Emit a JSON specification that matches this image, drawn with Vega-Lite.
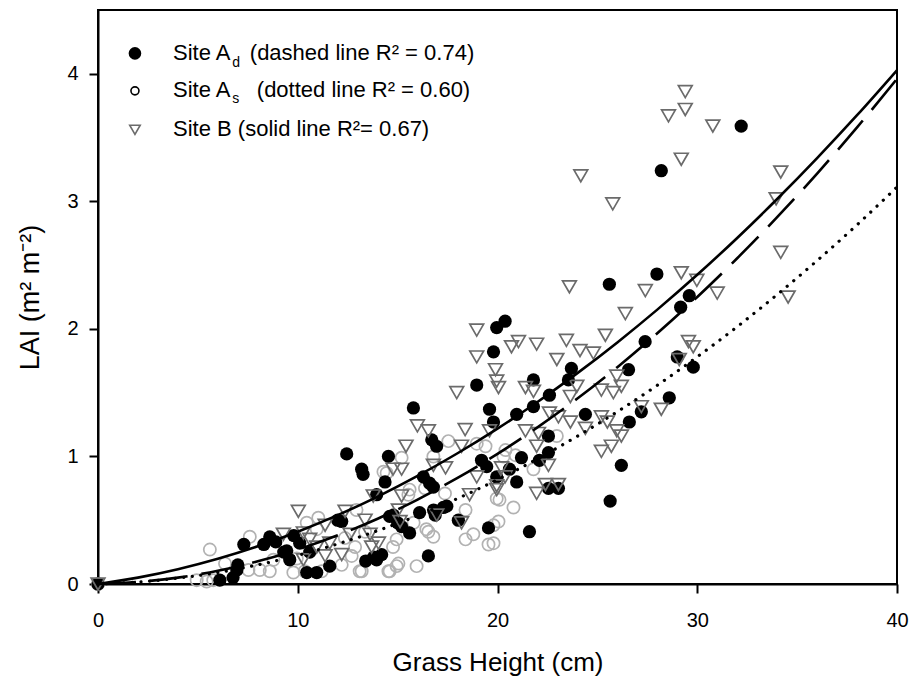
{
  "$schema": "https://vega.github.io/schema/vega-lite/v6.json",
  "width": 799,
  "height": 574,
  "autosize": {"type": "none"},
  "padding": {"left": 98, "top": 10, "right": 14, "bottom": 95},
  "background": "white",
  "datasets": {
    "pts": [
      {"s":"As","h":0,"lai":0},{"s":"As","h":4.94,"lai":0.03},{"s":"As","h":5.44,"lai":0.02},{"s":"As","h":5.77,"lai":0.03},{"s":"As","h":5.6,"lai":0.27},{"s":"As","h":6.36,"lai":0.16},{"s":"As","h":7.53,"lai":0.11},{"s":"As","h":7.6,"lai":0.37},{"s":"As","h":8.1,"lai":0.11},{"s":"As","h":8.6,"lai":0.10},{"s":"As","h":8.78,"lai":0.19},{"s":"As","h":9.78,"lai":0.09},{"s":"As","h":9.95,"lai":0.20},{"s":"As","h":10.35,"lai":0.10},{"s":"As","h":10.45,"lai":0.48},{"s":"As","h":10.95,"lai":0.43},{"s":"As","h":11.03,"lai":0.52},{"s":"As","h":11.2,"lai":0.10},{"s":"As","h":12.2,"lai":0.15},{"s":"As","h":12.36,"lai":0.36},{"s":"As","h":12.7,"lai":0.22},{"s":"As","h":12.87,"lai":0.29},{"s":"As","h":12.94,"lai":0.58},{"s":"As","h":13.1,"lai":0.10},{"s":"As","h":13.2,"lai":0.10},{"s":"As","h":13.37,"lai":0.41},{"s":"As","h":14.29,"lai":0.88},{"s":"As","h":14.45,"lai":0.87},{"s":"As","h":14.54,"lai":0.10},{"s":"As","h":14.6,"lai":0.10},{"s":"As","h":14.77,"lai":0.29},{"s":"As","h":14.95,"lai":0.14},{"s":"As","h":14.95,"lai":0.35},{"s":"As","h":15.04,"lai":0.16},{"s":"As","h":15.2,"lai":0.99},{"s":"As","h":15.54,"lai":0.70},{"s":"As","h":15.6,"lai":0.74},{"s":"As","h":15.8,"lai":0.48},{"s":"As","h":15.95,"lai":0.14},{"s":"As","h":16.37,"lai":0.75},{"s":"As","h":16.44,"lai":0.43},{"s":"As","h":16.54,"lai":0.41},{"s":"As","h":16.79,"lai":0.37},{"s":"As","h":16.79,"lai":1.0},{"s":"As","h":17.37,"lai":0.71},{"s":"As","h":17.54,"lai":1.12},{"s":"As","h":18.4,"lai":0.35},{"s":"As","h":18.4,"lai":0.58},{"s":"As","h":18.79,"lai":0.39},{"s":"As","h":18.96,"lai":1.10},{"s":"As","h":19.4,"lai":1.08},{"s":"As","h":19.55,"lai":0.31},{"s":"As","h":19.8,"lai":0.32},{"s":"As","h":19.8,"lai":0.46},{"s":"As","h":20.05,"lai":0.49},{"s":"As","h":19.96,"lai":0.67},{"s":"As","h":20.1,"lai":0.66},{"s":"As","h":20.3,"lai":1.0},{"s":"As","h":20.4,"lai":1.05},{"s":"As","h":20.8,"lai":0.60},{"s":"As","h":20.9,"lai":1.01},{"s":"As","h":21.8,"lai":0.90},{"s":"As","h":22.97,"lai":1.16},
      {"s":"Ad","h":0,"lai":0},{"s":"Ad","h":6.1,"lai":0.03},{"s":"Ad","h":6.76,"lai":0.05},{"s":"Ad","h":6.95,"lai":0.11},{"s":"Ad","h":7.0,"lai":0.15},{"s":"Ad","h":7.3,"lai":0.31},{"s":"Ad","h":8.3,"lai":0.31},{"s":"Ad","h":8.6,"lai":0.37},{"s":"Ad","h":8.9,"lai":0.33},{"s":"Ad","h":9.3,"lai":0.25},{"s":"Ad","h":9.6,"lai":0.19},{"s":"Ad","h":9.45,"lai":0.26},{"s":"Ad","h":9.8,"lai":0.38},{"s":"Ad","h":10.1,"lai":0.32},{"s":"Ad","h":10.45,"lai":0.09},{"s":"Ad","h":10.95,"lai":0.09},{"s":"Ad","h":10.6,"lai":0.25},{"s":"Ad","h":11.6,"lai":0.14},{"s":"Ad","h":12.0,"lai":0.5},{"s":"Ad","h":12.2,"lai":0.49},{"s":"Ad","h":12.45,"lai":1.02},{"s":"Ad","h":13.2,"lai":0.90},{"s":"Ad","h":13.27,"lai":0.86},{"s":"Ad","h":13.4,"lai":0.18},{"s":"Ad","h":13.8,"lai":0.21},{"s":"Ad","h":13.95,"lai":0.19},{"s":"Ad","h":14.2,"lai":0.23},{"s":"Ad","h":13.95,"lai":0.70},{"s":"Ad","h":14.37,"lai":0.80},{"s":"Ad","h":14.54,"lai":1.0},{"s":"Ad","h":14.6,"lai":0.53},{"s":"Ad","h":14.79,"lai":0.54},{"s":"Ad","h":15.0,"lai":0.48},{"s":"Ad","h":15.2,"lai":0.45},{"s":"Ad","h":15.6,"lai":0.40},{"s":"Ad","h":15.79,"lai":1.38},{"s":"Ad","h":16.1,"lai":0.56},{"s":"Ad","h":16.29,"lai":0.84},{"s":"Ad","h":16.6,"lai":0.79},{"s":"Ad","h":16.79,"lai":0.76},{"s":"Ad","h":16.71,"lai":1.13},{"s":"Ad","h":16.95,"lai":1.08},{"s":"Ad","h":16.54,"lai":0.22},{"s":"Ad","h":16.88,"lai":0.54},{"s":"Ad","h":16.8,"lai":0.58},{"s":"Ad","h":17.29,"lai":0.60},{"s":"Ad","h":17.46,"lai":0.61},{"s":"Ad","h":18.04,"lai":0.50},{"s":"Ad","h":18.96,"lai":1.56},{"s":"Ad","h":19.6,"lai":1.37},{"s":"Ad","h":19.8,"lai":1.27},{"s":"Ad","h":19.2,"lai":0.97},{"s":"Ad","h":19.46,"lai":0.92},{"s":"Ad","h":19.96,"lai":0.84},{"s":"Ad","h":19.55,"lai":0.44},{"s":"Ad","h":19.96,"lai":2.01},{"s":"Ad","h":20.38,"lai":2.06},{"s":"Ad","h":19.8,"lai":1.82},{"s":"Ad","h":20.6,"lai":0.90},{"s":"Ad","h":20.96,"lai":0.80},{"s":"Ad","h":21.2,"lai":0.99},{"s":"Ad","h":20.96,"lai":1.33},{"s":"Ad","h":21.8,"lai":1.39},{"s":"Ad","h":21.8,"lai":1.60},{"s":"Ad","h":22.6,"lai":1.48},{"s":"Ad","h":22.1,"lai":0.97},{"s":"Ad","h":22.55,"lai":1.03},{"s":"Ad","h":22.55,"lai":1.16},{"s":"Ad","h":22.55,"lai":0.75},{"s":"Ad","h":23.05,"lai":0.75},{"s":"Ad","h":21.6,"lai":0.41},{"s":"Ad","h":23.55,"lai":1.60},{"s":"Ad","h":23.7,"lai":1.69},{"s":"Ad","h":24.4,"lai":1.33},{"s":"Ad","h":25.6,"lai":2.35},{"s":"Ad","h":25.64,"lai":0.65},{"s":"Ad","h":26.2,"lai":0.93},{"s":"Ad","h":26.6,"lai":1.27},{"s":"Ad","h":26.56,"lai":1.68},{"s":"Ad","h":27.2,"lai":1.35},{"s":"Ad","h":27.39,"lai":1.90},{"s":"Ad","h":27.98,"lai":2.43},{"s":"Ad","h":28.2,"lai":3.24},{"s":"Ad","h":28.6,"lai":1.46},{"s":"Ad","h":29.0,"lai":1.78},{"s":"Ad","h":29.17,"lai":2.17},{"s":"Ad","h":29.6,"lai":2.26},{"s":"Ad","h":29.8,"lai":1.70},{"s":"Ad","h":32.2,"lai":3.59},
      {"s":"B","h":0,"lai":0},{"s":"B","h":9.28,"lai":0.39},{"s":"B","h":10.03,"lai":0.57},{"s":"B","h":10.28,"lai":0.40},{"s":"B","h":10.28,"lai":0.19},{"s":"B","h":10.6,"lai":0.35},{"s":"B","h":10.95,"lai":0.29},{"s":"B","h":11.37,"lai":0.22},{"s":"B","h":11.37,"lai":0.46},{"s":"B","h":11.6,"lai":0.32},{"s":"B","h":12.2,"lai":0.23},{"s":"B","h":12.37,"lai":0.57},{"s":"B","h":12.62,"lai":0.39},{"s":"B","h":13.37,"lai":0.50},{"s":"B","h":13.62,"lai":0.39},{"s":"B","h":13.7,"lai":0.29},{"s":"B","h":13.78,"lai":0.69},{"s":"B","h":14.04,"lai":0.32},{"s":"B","h":14.77,"lai":0.90},{"s":"B","h":15.2,"lai":0.90},{"s":"B","h":15.04,"lai":0.58},{"s":"B","h":15.12,"lai":0.49},{"s":"B","h":15.2,"lai":0.69},{"s":"B","h":15.42,"lai":1.08},{"s":"B","h":15.99,"lai":1.24},{"s":"B","h":16.54,"lai":1.20},{"s":"B","h":16.79,"lai":0.93},{"s":"B","h":16.96,"lai":0.54},{"s":"B","h":17.4,"lai":0.91},{"s":"B","h":17.96,"lai":1.50},{"s":"B","h":18.2,"lai":1.08},{"s":"B","h":18.2,"lai":0.48},{"s":"B","h":18.38,"lai":1.21},{"s":"B","h":18.6,"lai":0.70},{"s":"B","h":18.96,"lai":0.84},{"s":"B","h":18.96,"lai":1.99},{"s":"B","h":18.96,"lai":1.78},{"s":"B","h":19.6,"lai":1.20},{"s":"B","h":19.9,"lai":1.68},{"s":"B","h":19.96,"lai":1.59},{"s":"B","h":20.05,"lai":1.54},{"s":"B","h":19.96,"lai":0.77},{"s":"B","h":19.96,"lai":0.74},{"s":"B","h":20.2,"lai":0.91},{"s":"B","h":20.38,"lai":0.84},{"s":"B","h":20.7,"lai":1.86},{"s":"B","h":21.05,"lai":1.90},{"s":"B","h":21.96,"lai":1.88},{"s":"B","h":21.4,"lai":1.54},{"s":"B","h":21.8,"lai":1.51},{"s":"B","h":21.4,"lai":1.20},{"s":"B","h":22.05,"lai":1.18},{"s":"B","h":21.96,"lai":1.08},{"s":"B","h":21.96,"lai":0.71},{"s":"B","h":22.4,"lai":0.78},{"s":"B","h":22.55,"lai":0.93},{"s":"B","h":22.6,"lai":1.34},{"s":"B","h":22.97,"lai":1.76},{"s":"B","h":23.05,"lai":1.31},{"s":"B","h":23.05,"lai":0.78},{"s":"B","h":23.45,"lai":1.91},{"s":"B","h":23.6,"lai":2.33},{"s":"B","h":23.65,"lai":1.47},{"s":"B","h":23.65,"lai":1.27},{"s":"B","h":23.97,"lai":1.55},{"s":"B","h":24.13,"lai":1.83},{"s":"B","h":24.17,"lai":3.20},{"s":"B","h":24.4,"lai":1.22},{"s":"B","h":24.8,"lai":1.81},{"s":"B","h":25.2,"lai":1.52},{"s":"B","h":25.2,"lai":1.31},{"s":"B","h":25.2,"lai":1.04},{"s":"B","h":25.4,"lai":1.95},{"s":"B","h":25.5,"lai":1.27},{"s":"B","h":25.7,"lai":1.08},{"s":"B","h":25.77,"lai":2.98},{"s":"B","h":25.8,"lai":1.50},{"s":"B","h":25.97,"lai":1.63},{"s":"B","h":25.97,"lai":1.20},{"s":"B","h":26.2,"lai":1.55},{"s":"B","h":26.2,"lai":1.16},{"s":"B","h":26.4,"lai":2.12},{"s":"B","h":27.2,"lai":1.39},{"s":"B","h":27.4,"lai":2.30},{"s":"B","h":28.2,"lai":1.37},{"s":"B","h":28.56,"lai":3.67},{"s":"B","h":29.1,"lai":1.76},{"s":"B","h":29.2,"lai":3.33},{"s":"B","h":29.2,"lai":2.44},{"s":"B","h":29.4,"lai":3.86},{"s":"B","h":29.4,"lai":3.72},{"s":"B","h":29.56,"lai":1.90},{"s":"B","h":29.8,"lai":1.86},{"s":"B","h":29.98,"lai":2.38},{"s":"B","h":30.78,"lai":3.59},{"s":"B","h":31.0,"lai":2.28},{"s":"B","h":33.95,"lai":3.02},{"s":"B","h":34.18,"lai":3.23},{"s":"B","h":34.18,"lai":2.60},{"s":"B","h":34.55,"lai":2.25}
    ],
    "curves": [
      {"f":"B","h":0,"lai":0},{"f":"B","h":2,"lai":0.050},{"f":"B","h":4,"lai":0.116},{"f":"B","h":6,"lai":0.198},{"f":"B","h":8,"lai":0.296},{"f":"B","h":10,"lai":0.410},{"f":"B","h":12,"lai":0.540},{"f":"B","h":14,"lai":0.685},{"f":"B","h":16,"lai":0.847},{"f":"B","h":18,"lai":1.025},{"f":"B","h":20,"lai":1.218},{"f":"B","h":22,"lai":1.427},{"f":"B","h":24,"lai":1.653},{"f":"B","h":26,"lai":1.894},{"f":"B","h":28,"lai":2.151},{"f":"B","h":30,"lai":2.424},{"f":"B","h":32,"lai":2.713},{"f":"B","h":34,"lai":3.018},{"f":"B","h":36,"lai":3.339},{"f":"B","h":38,"lai":3.675},{"f":"B","h":40,"lai":4.028},
      {"f":"Ad","h":0,"lai":0},{"f":"Ad","h":2,"lai":0.016},{"f":"Ad","h":4,"lai":0.050},{"f":"Ad","h":6,"lai":0.104},{"f":"Ad","h":8,"lai":0.178},{"f":"Ad","h":10,"lai":0.270},{"f":"Ad","h":12,"lai":0.382},{"f":"Ad","h":14,"lai":0.512},{"f":"Ad","h":16,"lai":0.662},{"f":"Ad","h":18,"lai":0.832},{"f":"Ad","h":20,"lai":1.020},{"f":"Ad","h":22,"lai":1.228},{"f":"Ad","h":24,"lai":1.454},{"f":"Ad","h":26,"lai":1.700},{"f":"Ad","h":28,"lai":1.966},{"f":"Ad","h":30,"lai":2.250},{"f":"Ad","h":32,"lai":2.554},{"f":"Ad","h":34,"lai":2.876},{"f":"Ad","h":36,"lai":3.218},{"f":"Ad","h":38,"lai":3.580},{"f":"Ad","h":40,"lai":3.960},
      {"f":"As","h":0,"lai":0},{"f":"As","h":2,"lai":0.015},{"f":"As","h":4,"lai":0.046},{"f":"As","h":6,"lai":0.090},{"f":"As","h":8,"lai":0.150},{"f":"As","h":10,"lai":0.225},{"f":"As","h":12,"lai":0.314},{"f":"As","h":14,"lai":0.418},{"f":"As","h":16,"lai":0.536},{"f":"As","h":18,"lai":0.670},{"f":"As","h":20,"lai":0.818},{"f":"As","h":22,"lai":0.981},{"f":"As","h":24,"lai":1.159},{"f":"As","h":26,"lai":1.351},{"f":"As","h":28,"lai":1.558},{"f":"As","h":30,"lai":1.781},{"f":"As","h":32,"lai":2.017},{"f":"As","h":34,"lai":2.269},{"f":"As","h":36,"lai":2.535},{"f":"As","h":38,"lai":2.816},{"f":"As","h":40,"lai":3.112}
    ],
    "one": [{"k": 1}]
  },
  "layer": [
    {"data": {"name": "pts"}, "transform": [{"filter": "datum.s === 'As'"}],
     "mark": {"type": "point", "shape": "circle", "filled": false, "stroke": "#b2b2b2", "strokeWidth": 1.7, "size": 150, "opacity": 1},
     "encoding": {
       "x": {"field": "h", "type": "quantitative", "scale": {"domain": [0, 40], "nice": false, "zero": false}, "axis": {"values": [0, 10, 20, 30, 40], "format": "d", "labelFlush": false}, "title": "Grass Height (cm)"},
       "y": {"field": "lai", "type": "quantitative", "scale": {"domain": [0, 4.5], "nice": false, "zero": false}, "axis": {"values": [0, 1, 2, 3, 4], "format": "d", "labelFlush": false}, "title": "LAI (m² m⁻²)"}
     }},
    {"data": {"name": "pts"}, "transform": [{"filter": "datum.s === 'Ad'"}],
     "mark": {"type": "point", "shape": "circle", "filled": true, "fill": "black", "size": 175, "opacity": 1},
     "encoding": {
       "x": {"field": "h", "type": "quantitative", "title": "Grass Height (cm)"},
       "y": {"field": "lai", "type": "quantitative", "title": "LAI (m² m⁻²)"}
     }},
    {"data": {"name": "pts"}, "transform": [{"filter": "datum.s === 'B'"}],
     "mark": {"type": "point", "shape": "triangle-down", "filled": false, "stroke": "#6b6b6b", "strokeWidth": 1.7, "size": 190, "opacity": 1},
     "encoding": {
       "x": {"field": "h", "type": "quantitative", "title": "Grass Height (cm)"},
       "y": {"field": "lai", "type": "quantitative", "title": "LAI (m² m⁻²)"}
     }},
    {"data": {"name": "curves"}, "transform": [{"filter": "datum.f === 'B'"}],
     "mark": {"type": "line", "color": "black", "strokeWidth": 2.6, "interpolate": "monotone"},
     "encoding": {
       "x": {"field": "h", "type": "quantitative", "title": "Grass Height (cm)"},
       "y": {"field": "lai", "type": "quantitative", "title": "LAI (m² m⁻²)"}
     }},
    {"data": {"name": "curves"}, "transform": [{"filter": "datum.f === 'Ad'"}],
     "mark": {"type": "line", "color": "black", "strokeWidth": 2.6, "strokeDash": [38, 14], "interpolate": "monotone"},
     "encoding": {
       "x": {"field": "h", "type": "quantitative", "title": "Grass Height (cm)"},
       "y": {"field": "lai", "type": "quantitative", "title": "LAI (m² m⁻²)"}
     }},
    {"data": {"name": "curves"}, "transform": [{"filter": "datum.f === 'As'"}],
     "mark": {"type": "line", "color": "black", "strokeWidth": 3.2, "strokeDash": [0.1, 8.5], "strokeCap": "round", "interpolate": "monotone"},
     "encoding": {
       "x": {"field": "h", "type": "quantitative", "title": "Grass Height (cm)"},
       "y": {"field": "lai", "type": "quantitative", "title": "LAI (m² m⁻²)"}
     }},
    {"data": {"name": "one"},
     "mark": {"type": "point", "shape": "circle", "filled": true, "fill": "black", "size": 160, "opacity": 1},
     "encoding": {"x": {"datum": 1.85, "type": "quantitative", "title": "Grass Height (cm)"}, "y": {"datum": 4.16, "type": "quantitative", "title": "LAI (m² m⁻²)"}}},
    {"data": {"name": "one"},
     "mark": {"type": "point", "shape": "circle", "filled": false, "stroke": "black", "strokeWidth": 1.6, "size": 64, "opacity": 1},
     "encoding": {"x": {"datum": 1.85, "type": "quantitative", "title": "Grass Height (cm)"}, "y": {"datum": 3.866, "type": "quantitative", "title": "LAI (m² m⁻²)"}}},
    {"data": {"name": "one"},
     "mark": {"type": "point", "shape": "triangle-down", "filled": false, "stroke": "#6b6b6b", "strokeWidth": 1.6, "size": 110, "opacity": 1},
     "encoding": {"x": {"datum": 1.85, "type": "quantitative", "title": "Grass Height (cm)"}, "y": {"datum": 3.561, "type": "quantitative", "title": "LAI (m² m⁻²)"}}},
    {"data": {"name": "one"},
     "mark": {"type": "text", "font": "Liberation Sans", "fontSize": 22, "align": "left", "baseline": "alphabetic", "color": "black"},
     "encoding": {"x": {"datum": 3.756, "type": "quantitative", "title": "Grass Height (cm)"}, "y": {"datum": 4.109, "type": "quantitative", "title": "LAI (m² m⁻²)"}, "text": {"value": "Site A"}}},
    {"data": {"name": "one"},
     "mark": {"type": "text", "font": "Liberation Sans", "fontSize": 14, "align": "left", "baseline": "alphabetic", "color": "black"},
     "encoding": {"x": {"datum": 6.72, "type": "quantitative", "title": "Grass Height (cm)"}, "y": {"datum": 4.054, "type": "quantitative", "title": "LAI (m² m⁻²)"}, "text": {"value": "d"}}},
    {"data": {"name": "one"},
     "mark": {"type": "text", "font": "Liberation Sans", "fontSize": 22, "align": "left", "baseline": "alphabetic", "color": "black"},
     "encoding": {"x": {"datum": 7.6, "type": "quantitative", "title": "Grass Height (cm)"}, "y": {"datum": 4.109, "type": "quantitative", "title": "LAI (m² m⁻²)"}, "text": {"value": "(dashed line R² = 0.74)"}}},
    {"data": {"name": "one"},
     "mark": {"type": "text", "font": "Liberation Sans", "fontSize": 22, "align": "left", "baseline": "alphabetic", "color": "black"},
     "encoding": {"x": {"datum": 3.756, "type": "quantitative", "title": "Grass Height (cm)"}, "y": {"datum": 3.815, "type": "quantitative", "title": "LAI (m² m⁻²)"}, "text": {"value": "Site A"}}},
    {"data": {"name": "one"},
     "mark": {"type": "text", "font": "Liberation Sans", "fontSize": 14, "align": "left", "baseline": "alphabetic", "color": "black"},
     "encoding": {"x": {"datum": 6.72, "type": "quantitative", "title": "Grass Height (cm)"}, "y": {"datum": 3.772, "type": "quantitative", "title": "LAI (m² m⁻²)"}, "text": {"value": "s"}}},
    {"data": {"name": "one"},
     "mark": {"type": "text", "font": "Liberation Sans", "fontSize": 22, "align": "left", "baseline": "alphabetic", "color": "black"},
     "encoding": {"x": {"datum": 7.95, "type": "quantitative", "title": "Grass Height (cm)"}, "y": {"datum": 3.815, "type": "quantitative", "title": "LAI (m² m⁻²)"}, "text": {"value": "(dotted line R² = 0.60)"}}},
    {"data": {"name": "one"},
     "mark": {"type": "text", "font": "Liberation Sans", "fontSize": 22, "align": "left", "baseline": "alphabetic", "color": "black"},
     "encoding": {"x": {"datum": 3.756, "type": "quantitative", "title": "Grass Height (cm)"}, "y": {"datum": 3.509, "type": "quantitative", "title": "LAI (m² m⁻²)"}, "text": {"value": "Site B (solid line R²= 0.67)"}}}
  ],
  "config": {
    "view": {"stroke": "black", "strokeWidth": 2},
    "axis": {"grid": false, "domainColor": "black", "domainWidth": 2, "tickColor": "black", "tickWidth": 2, "tickSize": 9,
             "labelFont": "Liberation Sans", "labelFontSize": 20, "labelColor": "black", "labelFlush": false,
             "titleFont": "Liberation Sans", "titleFontSize": 26, "titleFontWeight": "normal", "titleColor": "black"},
    "axisX": {"labelPadding": 17, "titlePadding": 19},
    "axisY": {"labelPadding": 11, "titlePadding": 22, "titleFontSize": 27}
  }
}
